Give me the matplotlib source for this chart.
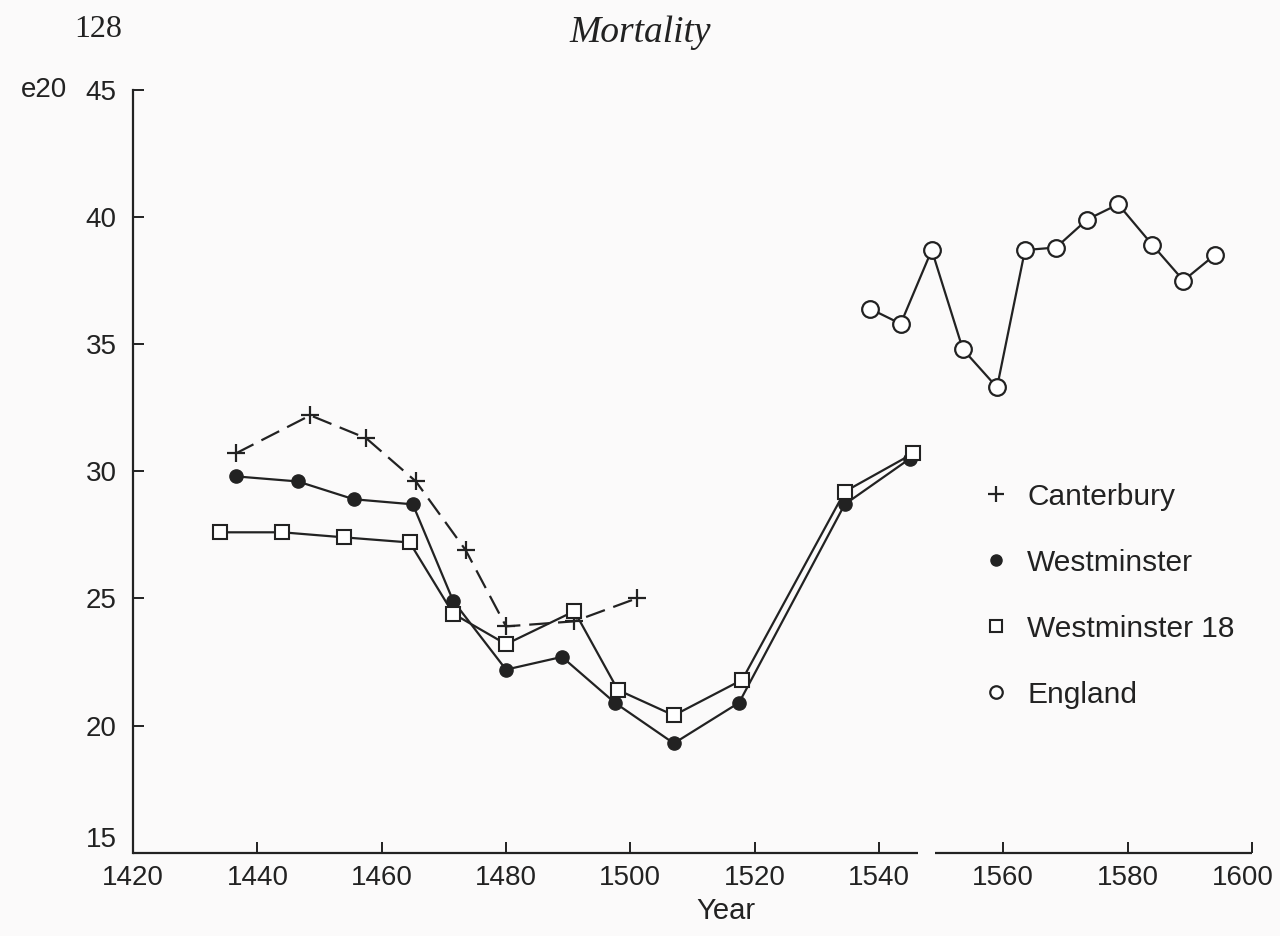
import matplotlib
matplotlib.use("Agg")
import matplotlib.pyplot as plt
from matplotlib import font_manager
from matplotlib.transforms import ScaledTranslation

# e20 (expectation of life at age 20) by year
canterbury_year = [1436.5, 1448.5, 1457.5, 1465.5, 1473.5, 1480, 1491, 1501]
canterbury_e20 = [30.7, 32.2, 31.3, 29.6, 26.9, 23.9, 24.1, 25.0]

westminster_year = [1436.5, 1446.5, 1455.5, 1465, 1471.5, 1480, 1489, 1497.5, 1507, 1517.5, 1534.5, 1545]
westminster_e20 = [29.8, 29.6, 28.9, 28.7, 24.9, 22.2, 22.7, 20.9, 19.3, 20.9, 28.7, 30.5]

westminster18_year = [1434, 1444, 1454, 1464.5, 1471.5, 1480, 1491, 1498, 1507, 1518, 1534.5, 1545.5]
westminster18_e20 = [27.6, 27.6, 27.4, 27.2, 24.4, 23.2, 24.5, 21.4, 20.4, 21.8, 29.2, 30.7]

england_year = [1538.5, 1543.5, 1548.5, 1553.5, 1559, 1563.5, 1568.5, 1573.5, 1578.5, 1584, 1589, 1594]
england_e20 = [36.4, 35.8, 38.7, 34.8, 33.3, 38.7, 38.8, 39.9, 40.5, 38.9, 37.5, 38.5]

xticks = [1420, 1440, 1460, 1480, 1500, 1520, 1540, 1560, 1580, 1600]
yticks = [15, 20, 25, 30, 35, 40, 45]
axis_break = (1546.3, 1549.0)

names = {f.name for f in font_manager.fontManager.ttflist}
sans = "Liberation Sans" if "Liberation Sans" in names else "DejaVu Sans"
serif = "Liberation Serif" if "Liberation Serif" in names else "DejaVu Serif"

ink = "#222222"
paper = "#fbfafa"

fig = plt.figure(figsize=(12.8, 9.36), dpi=100, facecolor=paper)
ax = fig.add_axes([0.104, 0.089, 0.874, 0.815], facecolor=paper)

ax.plot(canterbury_year, canterbury_e20, color=ink, lw=1.6, ls=(0, (9, 4)),
        marker="+", ms=13, mew=1.6, label="Canterbury")
ax.plot(westminster_year, westminster_e20, color=ink, lw=1.6,
        marker="o", ms=9.5, mfc=ink, mec=ink, label="Westminster")
ax.plot(westminster18_year, westminster18_e20, color=ink, lw=1.6,
        marker="s", ms=10.5, mfc="white", mec=ink, mew=1.5, label="Westminster 18")
ax.plot(england_year, england_e20, color=ink, lw=1.6,
        marker="o", ms=12, mfc="white", mec=ink, mew=1.6, label="England")

ax.set_xlim(1420, 1600)
ax.set_ylim(15, 45)
ax.set_xticks(xticks)
ax.set_yticks(yticks)

for s in ["top", "right", "bottom"]:
    ax.spines[s].set_visible(False)
ax.spines["left"].set_color(ink)
ax.spines["left"].set_linewidth(1.6)

# broken x axis
ax.hlines([15, 15], [1420, axis_break[1]], [axis_break[0], 1600],
          color=ink, lw=1.6, clip_on=False)

ax.tick_params(axis="both", direction="in", length=8, width=1.4, color=ink,
               labelcolor=ink, labelsize=20)
ax.tick_params(axis="x", pad=9)
ax.tick_params(axis="y", pad=12)
for lab in ax.get_xticklabels() + ax.get_yticklabels():
    lab.set_family(sans)
ax.get_yticklabels()[0].set_va("bottom")
last = ax.get_xticklabels()[-1]
last.set_transform(last.get_transform() + ScaledTranslation(-9 / 100, 0, fig.dpi_scale_trans))

ax.set_xlabel("Year", fontsize=21, family=sans, color=ink, x=0.53, labelpad=4)

ax.annotate("e20", xy=(0, 1), xycoords="axes fraction", xytext=(-112, 0),
            textcoords="offset pixels", ha="left", va="center",
            fontsize=20, family=sans, color=ink)

leg = ax.legend(loc="upper left", bbox_to_anchor=(0.735, 0.52), frameon=False,
                handlelength=0.9, handletextpad=0.6, labelspacing=1.27,
                prop={"family": sans, "size": 21.5}, labelcolor=ink)
for h in leg.legend_handles:
    h.set_linestyle("none")
leg.legend_handles[0].set_markersize(11)
leg.legend_handles[1].set_markersize(8)
leg.legend_handles[2].set_markersize(9)
leg.legend_handles[3].set_markersize(9)

# page header
fig.text(0.058, 0.968, "128", fontsize=23, family=serif, color=ink,
         ha="left", va="center")
fig.text(0.5, 0.965, "Mortality", fontsize=27, family=serif, style="italic",
         color=ink, ha="center", va="center")

fig.savefig("out.png", dpi=100, facecolor=paper)
